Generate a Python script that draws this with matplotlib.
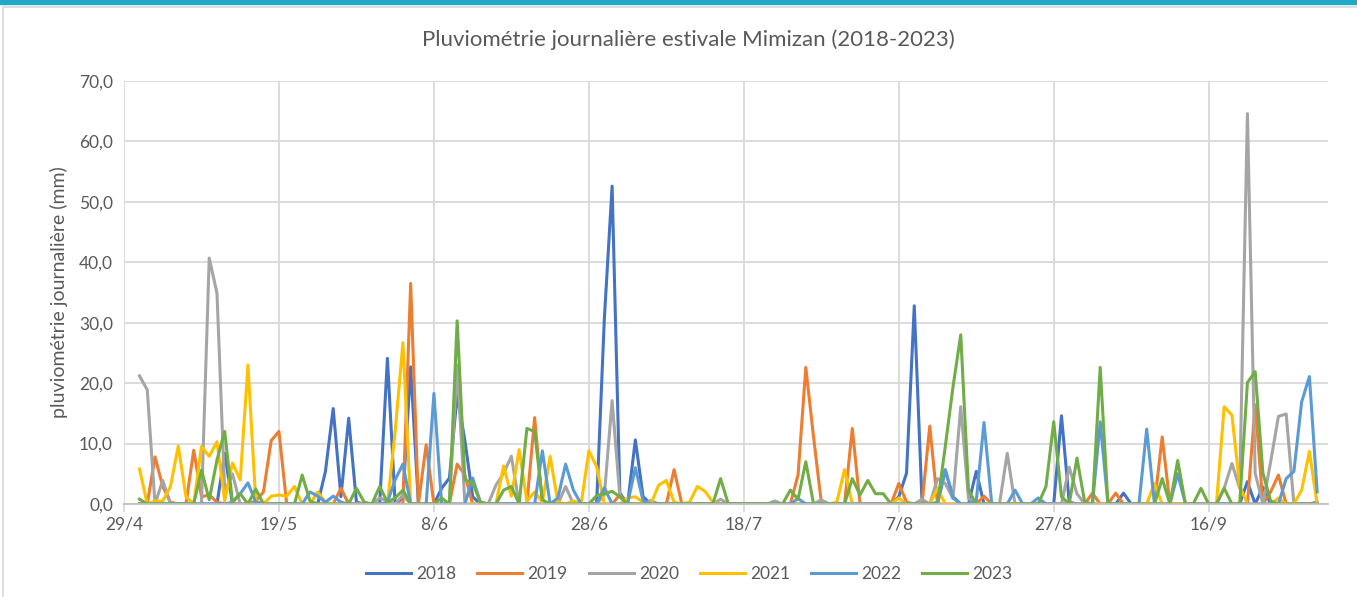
import numpy as np
import matplotlib
matplotlib.use("Agg")
import matplotlib.pyplot as plt
from matplotlib.ticker import FuncFormatter
from matplotlib.patches import Rectangle

# daily rain (mm), 1 May -> 30 Sept; key = days since 1 May, missing days are dry (0)
n_days = 153
rain_2018 = {11: 8.4, 24: 5.4, 25: 15.8, 26: 1.2, 27: 14.2, 28: 0.3, 32: 24.1, 34: 1.0,
             35: 22.7, 39: 2.6, 40: 4.3, 41: 18.0, 42: 10.5, 43: 1.2, 60: 30.7, 61: 52.6,
             62: 1.8, 64: 10.6, 65: 1.2, 98: 1.2, 99: 5.1, 100: 32.8, 101: 0.3, 104: 5.6,
             105: 1.2, 108: 5.4, 119: 14.6, 120: 0.3, 127: 1.8, 143: 3.7, 145: 2.8, 152: 0.3}
rain_2019 = {2: 7.8, 3: 2.9, 4: 0.3, 7: 8.9, 8: 1.2, 9: 1.5, 10: 0.3, 15: 0.5, 16: 2.0,
             17: 10.5, 18: 12.0, 26: 2.6, 35: 36.5, 37: 9.8, 41: 6.6, 42: 4.8, 51: 14.3,
             62: 1.5, 69: 5.7, 85: 4.8, 86: 22.6, 87: 11.1, 88: 0.3, 92: 12.5, 98: 3.4,
             99: 0.3, 102: 12.9, 109: 1.3, 123: 1.8, 126: 1.8, 132: 11.1, 144: 16.4,
             146: 2.0, 147: 4.8}
rain_2020 = {0: 21.2, 1: 18.9, 3: 3.9, 9: 40.7, 10: 34.9, 11: 2.0, 12: 5.0, 31: 1.0,
             32: 0.5, 34: 1.5, 41: 23.0, 46: 3.1, 47: 5.1, 48: 7.9, 55: 2.9, 60: 1.5,
             61: 17.1, 62: 1.2, 66: 0.6, 75: 0.8, 82: 0.5, 88: 0.7, 101: 0.8, 103: 4.2,
             104: 3.4, 105: 0.9, 106: 16.1, 107: 0.9, 112: 8.4, 120: 6.1, 121: 1.7,
             140: 2.6, 141: 6.7, 142: 2.6, 143: 64.6, 144: 5.1, 146: 7.0, 147: 14.5,
             148: 14.9}
rain_2021 = {0: 5.8, 2: 0.5, 3: 0.5, 4: 2.9, 5: 9.6, 6: 1.2, 8: 9.5, 9: 7.9, 10: 10.3,
             11: 0.5, 12: 6.8, 13: 4.0, 14: 23.0, 15: 0.5, 17: 1.3, 18: 1.5, 19: 1.3,
             20: 2.9, 23: 2.0, 24: 0.3, 33: 12.0, 34: 26.7, 47: 6.3, 48: 1.3, 49: 9.0,
             50: 0.5, 51: 2.0, 52: 0.3, 53: 7.9, 54: 0.3, 56: 0.5, 58: 8.8, 59: 6.2,
             63: 1.0, 64: 1.2, 65: 0.3, 67: 3.1, 68: 3.9, 69: 0.3, 71: 0.3, 72: 2.9,
             73: 2.1, 74: 0.3, 90: 0.3, 91: 5.7, 98: 1.0, 103: 2.6, 131: 3.4, 140: 16.1,
             141: 14.7, 142: 3.0, 147: 1.0, 150: 2.3, 151: 8.7}
rain_2022 = {12: 0.3, 13: 1.7, 14: 3.5, 15: 0.3, 22: 2.0, 23: 1.3, 24: 0.3, 25: 1.3,
             26: 0.3, 32: 0.3, 33: 4.0, 34: 6.6, 38: 18.3, 43: 4.3, 44: 0.3, 52: 8.8,
             54: 1.0, 55: 6.6, 56: 2.3, 60: 2.7, 64: 6.0, 65: 0.5, 85: 0.9, 103: 0.3,
             104: 5.7, 105: 1.0, 108: 0.5, 109: 13.5, 113: 2.3, 116: 1.0, 124: 13.6,
             130: 12.4, 134: 5.0, 148: 4.2, 149: 5.4, 150: 16.9, 151: 21.1, 152: 2.0}
rain_2023 = {0: 0.8, 8: 5.6, 9: 0.7, 10: 7.3, 11: 12.0, 12: 0.3, 13: 1.7, 15: 2.5,
             21: 4.8, 22: 0.5, 28: 2.6, 29: 0.3, 31: 2.9, 32: 0.3, 33: 1.0, 34: 2.3,
             39: 1.0, 41: 30.3, 42: 4.0, 43: 3.5, 44: 0.3, 47: 2.3, 48: 2.9, 50: 12.5,
             51: 12.0, 52: 0.7, 59: 1.4, 60: 1.7, 61: 2.1, 62: 1.2, 75: 4.2, 84: 2.3,
             85: 0.8, 86: 7.0, 92: 4.2, 93: 1.5, 94: 3.9, 95: 1.7, 96: 1.7, 104: 9.5,
             105: 19.4, 106: 28.0, 107: 2.3, 117: 2.9, 118: 13.6, 119: 1.2, 121: 7.6,
             122: 0.3, 124: 22.6, 132: 4.2, 134: 7.2, 137: 2.6, 140: 2.6, 143: 20.1,
             144: 21.9, 145: 5.1, 146: 0.5}

years = ["2018", "2019", "2020", "2021", "2022", "2023"]
series = [rain_2018, rain_2019, rain_2020, rain_2021, rain_2022, rain_2023]
colors = ["#4472C4", "#ED7D31", "#A5A5A5", "#FFC000", "#5B9BD5", "#70AD47"]

tick_days = [-2, 18, 38, 58, 78, 98, 118, 138]
tick_labels = ["29/4", "19/5", "8/6", "28/6", "18/7", "7/8", "27/8", "16/9"]

plt.rcParams['font.family'] = ['Lato', 'DejaVu Sans']
txt = "#595959"
grid = "#D9D9D9"

W, H = 1357, 597
fig = plt.figure(figsize=(W / 100, H / 100), dpi=100)
fig.patches.append(Rectangle((0, 1 - 4 / H), 1, 4 / H, transform=fig.transFigure,
                             color="#22A9C5", zorder=0))
fig.patches.append(Rectangle((3 / W, -0.05), 1.1, 1 - 7 / H + 0.05, transform=fig.transFigure,
                             fill=False, edgecolor=grid, linewidth=1.2, zorder=0))

ax = fig.add_axes([124 / W, (H - 504) / H, (1328 - 124) / W, (504 - 81) / H])

x = np.arange(n_days)
for year, rain, c in zip(years, series, colors):
    y = np.zeros(n_days)
    for d, v in rain.items():
        y[d] = v
    ax.plot(x, y, color=c, linewidth=2.2, label=year, solid_joinstyle="round")

ax.set_xlim(-2, 153.4)
ax.set_ylim(0, 70)
ax.set_yticks(np.arange(0, 71, 10))
ax.yaxis.set_major_formatter(FuncFormatter(lambda v, p: f"{v:.1f}".replace(".", ",")))
ax.set_xticks(tick_days)
ax.set_xticklabels(tick_labels)
ax.grid(True, color=grid, linewidth=1.3)
ax.set_axisbelow(True)
for s in ["top", "right", "left"]:
    ax.spines[s].set_visible(False)
ax.spines["bottom"].set_color("#BFBFBF")
ax.spines["bottom"].set_linewidth(1.3)
ax.tick_params(axis="x", colors=grid, labelcolor=txt, labelsize=12.5, length=6, width=1.3, pad=3)
ax.tick_params(axis="y", length=0, labelcolor=txt, labelsize=12.5, pad=8)

ax.set_ylabel("pluviométrie journalière (mm)", color=txt, fontsize=14, labelpad=8)
fig.text(0.5075, 1 - 40 / H, "Pluviométrie journalière estivale Mimizan (2018-2023)",
         ha="center", va="center", color=txt, fontsize=16)

fig.legend(loc="center", bbox_to_anchor=(0.508, 1 - 574 / H), ncol=6, frameon=False,
           fontsize=12.5, labelcolor=txt, handlelength=2.6, columnspacing=1.2, handletextpad=0.3)

fig.savefig("out.png", dpi=100)
